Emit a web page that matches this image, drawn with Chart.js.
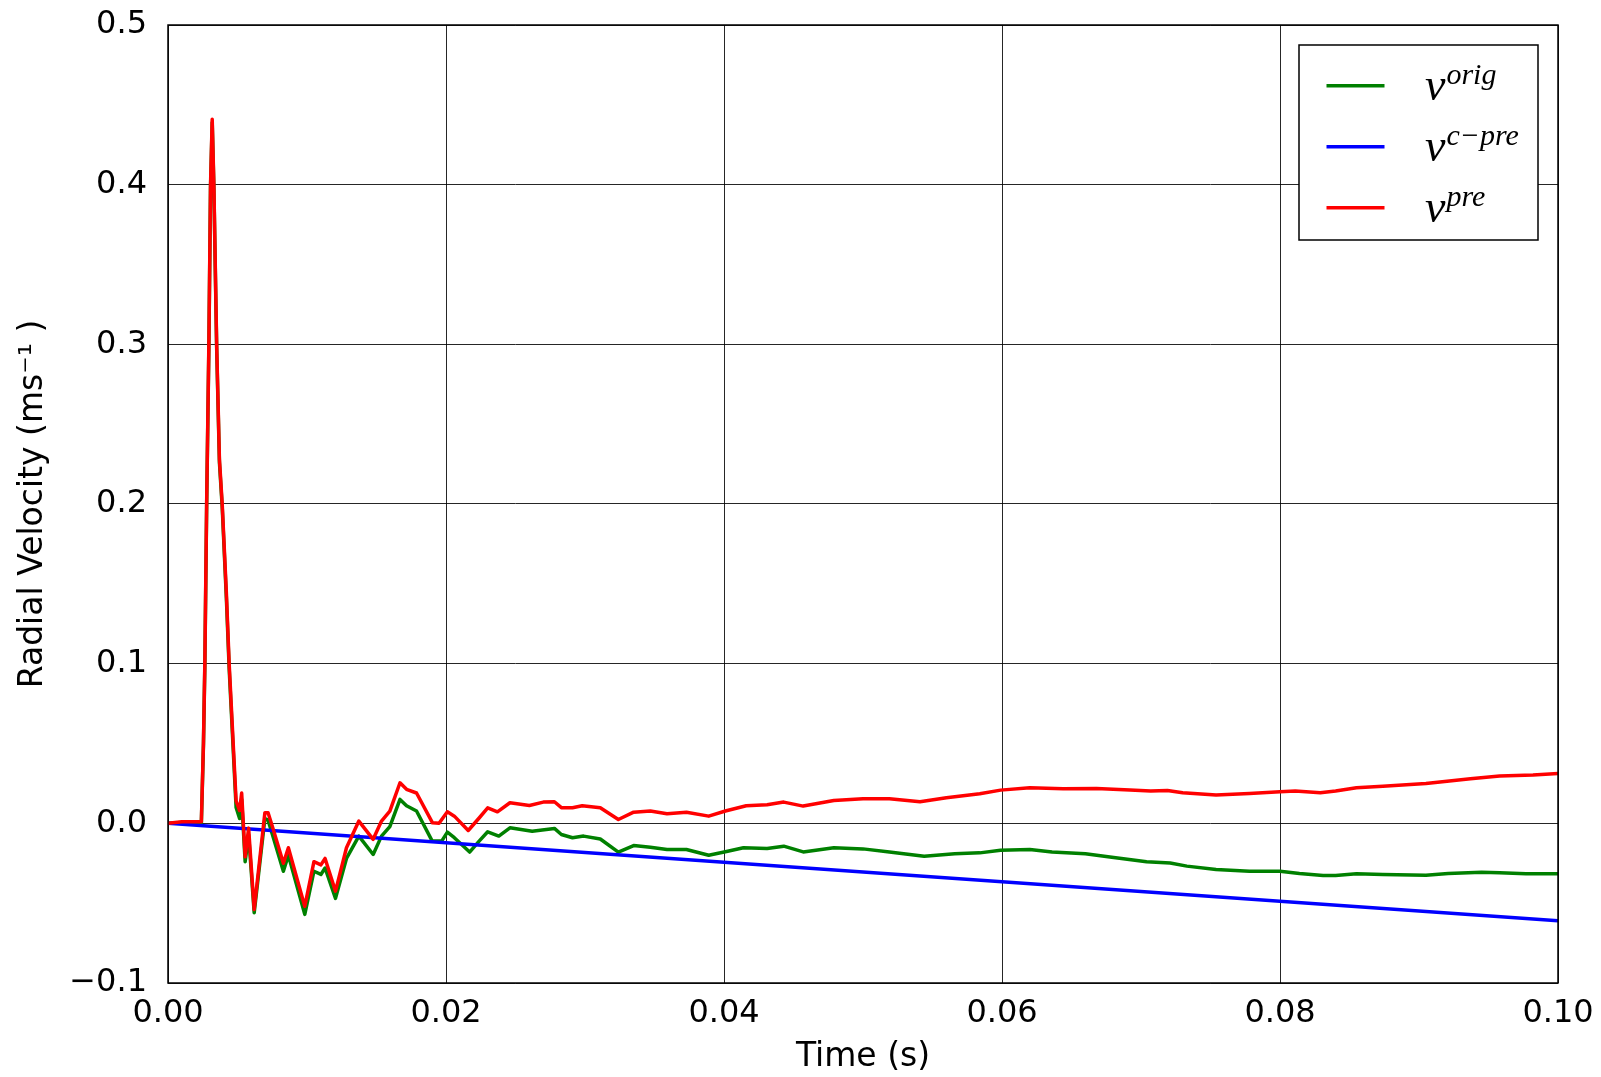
<!DOCTYPE html>
<html><head><meta charset="utf-8">
<script src="https://cdn.jsdelivr.net/npm/chart.js@4.4.0/dist/chart.umd.min.js"></script>
<style>html,body{margin:0;padding:0;background:#fff;} #wrap{width:1601px;height:1077px;}</style>
</head><body><div id="wrap"><canvas id="c" width="1601" height="1077"></canvas></div>
<script>
// ---- data ----
const timePre = [0,0.0010,0.0024,0.00255,0.00265,0.00278,0.00294,0.00306,0.00318,0.0033,0.0035,0.0037,0.0039,0.0042,0.0044,0.0049,0.00515,0.0053,0.00555,0.0058,0.0062,0.00697,0.0072,0.00758,0.0083,0.00866,0.00984,0.0105,0.0110,0.0113,0.01205,0.01284,0.01373,0.01476,0.01536,0.01596,0.01669,0.01716,0.01788,0.01903,0.0195,0.0201,0.0206,0.0216,0.0224,0.0230,0.0237,0.0246,0.0260,0.0270,0.0278,0.0283,0.0291,0.0298,0.0311,0.0324,0.0335,0.0347,0.0359,0.0373,0.0389,0.0401,0.0416,0.0431,0.0443,0.0457,0.0479,0.0500,0.0519,0.0541,0.0560,0.0584,0.0599,0.0620,0.0644,0.0668,0.0692,0.0707,0.0719,0.0730,0.0754,0.0778,0.0800,0.0811,0.0829,0.0840,0.0855,0.0874,0.0905,0.0937,0.0958,0.0982,0.1000];
const velPre = [0,0.001,0.001,0.05,0.10,0.20,0.30,0.40,0.441,0.40,0.30,0.228,0.20,0.144,0.10,0.014,0.008,0.019,-0.021,-0.003,-0.054,0.0066,0.0066,-0.004,-0.025,-0.0153,-0.052,-0.024,-0.026,-0.022,-0.0425,-0.0153,0.0014,-0.010,0.0014,0.0077,0.0254,0.0213,0.019,0.0003,0.0,0.0072,0.0045,-0.0045,0.0035,0.0097,0.0072,0.0129,0.0112,0.0133,0.0135,0.0098,0.0098,0.011,0.0098,0.0024,0.007,0.0077,0.006,0.007,0.0045,0.0077,0.011,0.0117,0.0133,0.0108,0.0143,0.0154,0.0154,0.0135,0.0160,0.0185,0.0208,0.0223,0.0216,0.0218,0.0208,0.0202,0.0206,0.0192,0.0177,0.0187,0.0198,0.0202,0.0192,0.0202,0.0223,0.0233,0.025,0.0279,0.0296,0.0302,0.0312];

const timeOrig = [0,0.0010,0.0024,0.00255,0.00265,0.00278,0.00294,0.00306,0.00318,0.0033,0.0035,0.0037,0.0039,0.0042,0.0044,0.0049,0.00515,0.0053,0.00555,0.0058,0.0062,0.00697,0.0072,0.00758,0.0083,0.00866,0.00984,0.0105,0.0110,0.0113,0.01205,0.01284,0.01373,0.01476,0.01536,0.01596,0.01669,0.01716,0.01788,0.0190,0.0197,0.0201,0.0206,0.0217,0.0224,0.0230,0.0238,0.0246,0.0262,0.0278,0.0283,0.0291,0.0299,0.0311,0.0324,0.0335,0.0347,0.0359,0.0373,0.0389,0.0401,0.0414,0.0431,0.0443,0.0457,0.0479,0.0500,0.0519,0.0544,0.0566,0.0584,0.0599,0.0620,0.0636,0.0660,0.0679,0.0704,0.0721,0.0733,0.0754,0.0778,0.0800,0.0814,0.0831,0.0840,0.0855,0.0874,0.0905,0.0921,0.0945,0.0958,0.0977,0.1000];
const velOrig = [0,0.0005,0.0,0.049,0.098,0.198,0.298,0.398,0.439,0.398,0.298,0.226,0.198,0.141,0.097,0.010,0.003,0.015,-0.024,-0.007,-0.056,0.003,0.002,-0.009,-0.030,-0.020,-0.057,-0.030,-0.032,-0.028,-0.047,-0.022,-0.008,-0.0195,-0.008,-0.002,0.015,0.011,0.0077,-0.011,-0.011,-0.0055,-0.009,-0.018,-0.011,-0.0053,-0.008,-0.0028,-0.0049,-0.0032,-0.007,-0.009,-0.008,-0.0098,-0.018,-0.0139,-0.015,-0.0164,-0.0164,-0.020,-0.0178,-0.0153,-0.0157,-0.0143,-0.0179,-0.0153,-0.016,-0.018,-0.0206,-0.0191,-0.0185,-0.0168,-0.0164,-0.018,-0.019,-0.0212,-0.0241,-0.0248,-0.0268,-0.0289,-0.0300,-0.0300,-0.0314,-0.0327,-0.0327,-0.0316,-0.0320,-0.0325,-0.0314,-0.0306,-0.0310,-0.0316,-0.0316];

const timeCpre = [0, 0.1];
const velCpre = [0, -0.061];

const xTickValues = [0, 0.02, 0.04, 0.06, 0.08, 0.10];
const xTickLabels = ['0.00', '0.02', '0.04', '0.06', '0.08', '0.10'];
const yTickValues = [-0.1, 0.0, 0.1, 0.2, 0.3, 0.4, 0.5];
const yTickLabels = ['\u22120.1', '0.0', '0.1', '0.2', '0.3', '0.4', '0.5'];

const seriesNames = ['v^orig', 'v^c\u2212pre', 'v^pre'];
const legendBase = 'v';
const legendSup = ['orig', 'c\u2212pre', 'pre'];
const seriesColors = ['#008000', '#0000ff', '#ff0000'];

function pts(t, v) { return t.map((x, i) => ({ x: x, y: v[i] })); }

const framePlugin = {
  id: 'frameAndLegend',
  afterDatasetsDraw(chart) {
    const ctx = chart.ctx, a = chart.chartArea;
    ctx.save();
    ctx.strokeStyle = '#000';
    ctx.lineWidth = 1.5;
    ctx.strokeRect(a.left, a.top, a.right - a.left, a.bottom - a.top);
    // legend
    const bw = 239, bh = 195;
    const bx = a.right - 20 - bw, by = a.top + 20;
    ctx.fillStyle = '#fff';
    ctx.fillRect(bx, by, bw, bh);
    ctx.lineWidth = 1.5;
    ctx.strokeRect(bx, by, bw, bh);
    for (let i = 0; i < 3; i++) {
      const ly = by + 40.7 + i * 61;
      ctx.strokeStyle = seriesColors[i];
      ctx.lineWidth = 3.5;
      ctx.beginPath();
      ctx.moveTo(bx + 27.5, ly);
      ctx.lineTo(bx + 85.5, ly);
      ctx.stroke();
      const base = ly + 14.5;
      ctx.fillStyle = '#000';
      ctx.textBaseline = 'alphabetic';
      ctx.textAlign = 'left';
      ctx.font = 'italic 46px "Liberation Serif"';
      ctx.fillText(legendBase, bx + 126, base);
      const w = ctx.measureText(legendBase).width;
      ctx.font = 'italic 30px "Liberation Serif"';
      ctx.fillText(legendSup[i], bx + 126 + w + 1, base - 16);
    }
    ctx.restore();
  }
};

new Chart(document.getElementById('c'), {
  type: 'line',
  data: {
    datasets: [
      { label: seriesNames[0], data: pts(timeOrig, velOrig), borderColor: seriesColors[0], order: 3 },
      { label: seriesNames[1], data: pts(timeCpre, velCpre), borderColor: seriesColors[1], order: 2 },
      { label: seriesNames[2], data: pts(timePre, velPre), borderColor: seriesColors[2], order: 1 }
    ]
  },
  options: {
    responsive: false,
    animation: false,
    devicePixelRatio: 1,
    parsing: false,
    layout: { padding: { left: 0, top: 25, right: 43, bottom: 0 } },
    plugins: { legend: { display: false }, tooltip: { enabled: false } },
    elements: {
      point: { radius: 0 },
      line: { tension: 0, borderWidth: 3.5, borderJoinStyle: 'round', borderCapStyle: 'round', fill: false }
    },
    scales: {
      x: {
        type: 'linear', min: 0, max: 0.1,
        afterBuildTicks: s => { s.ticks = xTickValues.map(v => ({ value: v })); },
        ticks: { callback: (v, i) => xTickLabels[i], font: { family: 'DejaVu Sans', size: 32 }, color: '#000', padding: 0, maxRotation: 0, autoSkip: false },
        grid: { color: 'rgba(0,0,0,0.85)', lineWidth: 1, drawTicks: true, tickLength: 11, tickColor: 'rgba(0,0,0,0)' },
        border: { display: false },
        title: { display: true, text: 'Time (s)', font: { family: 'DejaVu Sans', size: 33 }, color: '#000', padding: { top: 0, bottom: 0 } },
        afterFit: s => { s.height = 94; }
      },
      y: {
        type: 'linear', min: -0.1, max: 0.5,
        afterBuildTicks: s => { s.ticks = yTickValues.map(v => ({ value: v })); },
        ticks: { callback: (v, i) => yTickLabels[i], font: { family: 'DejaVu Sans', size: 32 }, color: '#000', padding: 0, autoSkip: false },
        grid: { color: 'rgba(0,0,0,0.85)', lineWidth: 1, drawTicks: true, tickLength: 21, tickColor: 'rgba(0,0,0,0)' },
        border: { display: false },
        title: { display: true, text: 'Radial Velocity (ms\u207B\u00B9 )', font: { family: 'DejaVu Sans', size: 33 }, color: '#000', padding: { top: 14, bottom: 0 } },
        afterFit: s => { s.width = 168; }
      }
    }
  },
  plugins: [framePlugin]
});
</script>
</body></html>
